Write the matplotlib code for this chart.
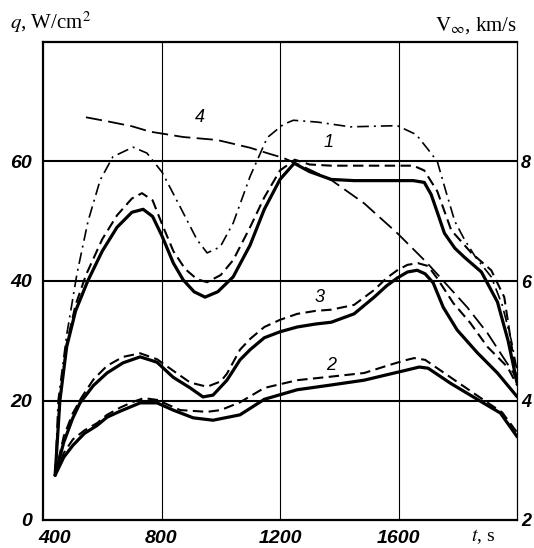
import matplotlib
matplotlib.use("Agg")
import matplotlib.pyplot as plt
import matplotlib.transforms as mtransforms

plt.rcParams['mathtext.fontset'] = 'stix'
plt.rcParams['lines.solid_joinstyle'] = 'round'
plt.rcParams['lines.dash_joinstyle'] = 'round'

# время, с
t_1s = [441, 457, 480, 510, 551, 600, 650, 700, 738, 770, 802, 840, 873, 910, 947, 990, 1042, 1099,
        1147, 1200, 1248, 1300, 1373, 1450, 1550, 1650, 1687, 1710, 1731, 1755, 1790, 1822, 1880,
        1934, 1970, 2000]
q_1s = [7.5, 20, 29, 35, 40, 45, 49, 51.5, 52, 50.8, 47.5, 43, 40.2, 38.2, 37.3, 38.2, 40.7, 46,
        52, 57, 59.7, 58.3, 57, 56.8, 56.8, 56.8, 56.5, 54.5, 51.5, 48, 45.5, 44, 41.5,
        36.5, 30, 23]

t_1d = [441, 457, 480, 510, 545, 600, 650, 700, 734, 770, 802, 840, 880, 920, 954, 1000, 1042,
        1099, 1147, 1200, 1250, 1300, 1373, 1450, 1550, 1650, 1687, 1731, 1778, 1846, 1913, 1957, 2001]
q_1d = [7.5, 20, 29.5, 36, 41, 47, 51, 53.8, 54.7, 53.5, 49.5, 45, 42, 40.3, 39.8, 41, 43.5,
        49, 54, 58.5, 60.3, 59.5, 59.3, 59.3, 59.3, 59.3, 58.5, 55, 48.5, 44.7, 41.8, 37.3, 22.8]

t_1dd = [441, 451, 480, 515, 552, 593, 636, 704, 751, 802, 863, 920, 954, 998, 1042, 1099, 1157,
         1211, 1245, 1326, 1437, 1596, 1660, 1700, 1731, 1760, 1790, 1822, 1860, 1913, 1950, 1981, 2001]
q_1dd = [7.5, 20, 31, 41.3, 50, 56.9, 60.8, 62.4, 61.4, 58.2, 52.4, 46.9, 44.7, 45.7, 49.7, 57.5, 64,
         66.2, 66.9, 66.6, 65.8, 66, 64.5, 62, 60, 55, 50, 47, 44, 40.7, 36, 30, 24.8]

t_3s = [441, 470, 500, 525, 570, 616, 670, 728, 785, 839, 897, 940, 974, 1021, 1065, 1099, 1147,
        1200, 1258, 1320, 1373, 1450, 1518, 1560, 1596, 1630, 1663, 1690, 1717, 1751, 1798, 1866,
        1934, 2001]
q_3s = [7.5, 13, 17, 19.6, 22.5, 24.6, 26.3, 27.3, 26.4, 23.9, 22.1, 20.6, 20.9, 23.4, 26.8, 28.5,
        30.5, 31.5, 32.3, 32.8, 33.1, 34.5, 37.3, 39.2, 40.5, 41.5, 41.8, 41.2, 39.7, 35.6, 31.8, 28,
        24.6, 20.6]

t_3d = [441, 470, 500, 530, 570, 616, 670, 728, 785, 839, 897, 954, 1000, 1021, 1065, 1099, 1147,
        1200, 1258, 1320, 1373, 1450, 1518, 1560, 1596, 1630, 1665, 1700, 1730, 1785, 1842, 1900,
        1968, 2001]
q_3d = [7.5, 14, 17.8, 20.5, 23.5, 25.8, 27.3, 27.9, 26.9, 25, 23, 22.3, 23.2, 24.5, 28.5, 30.3,
        32.3, 33.5, 34.5, 35, 35.2, 36, 38.5, 40.5, 41.8, 42.7, 43, 42.5, 40.5, 36.3, 33, 29,
        25.6, 22.5]

t_2s = [441, 470, 501, 540, 582, 616, 660, 694, 728, 785, 839, 907, 974, 1065, 1147, 1258, 1373,
        1484, 1560, 1620, 1670, 1700, 1775, 1886, 1944, 2001]
q_2s = [7.5, 10.5, 12.5, 14.5, 15.8, 17.2, 18.2, 18.9, 19.6, 19.6, 18.4, 17.1, 16.7, 17.6, 20.2,
        21.8, 22.6, 23.4, 24.3, 25, 25.6, 25.4, 22.9, 19.6, 17.9, 13.9]

t_2d = [441, 470, 501, 540, 582, 616, 660, 700, 740, 785, 863, 954, 1000, 1065, 1147, 1258, 1373,
        1484, 1560, 1620, 1653, 1690, 1775, 1887, 1950, 2001]
q_2d = [7.5, 11.2, 13.5, 15, 16.2, 17.6, 18.8, 19.7, 20.4, 20.1, 18.4, 18.1, 18.4, 19.7, 22.1,
        23.4, 24, 24.6, 25.8, 26.7, 27.1, 26.8, 23.9, 20.1, 18, 14.6]

# скорость V, км/с (кривая 4)
t_4 = [545, 620, 700, 761, 873, 988, 1099, 1157, 1211, 1268, 1373, 1484, 1596, 1697, 1832, 1900,
       1988, 2001]
v_4 = [8.74, 8.67, 8.59, 8.5, 8.41, 8.36, 8.23, 8.14, 8.06, 7.94, 7.69, 7.3, 6.8, 6.3, 5.56, 5.13,
       4.46, 4.29]

x_ticks = [400, 800, 1200, 1600]
q_ticks = [0, 20, 40, 60]
v_ticks = [2, 4, 6, 8]

tick_font = dict(family='Liberation Sans', style='italic', weight='bold', size=14)

fig = plt.figure(figsize=(5.34, 5.48), dpi=100)
ax = fig.add_axes([43 / 534, 1 - 520 / 548, 474 / 534, 478 / 548])
ax2 = ax.twinx()

solid = dict(color='black', lw=2.3, solid_capstyle='round')
dashed = dict(color='black', lw=1.5, ls=(0, (5, 2.6)))
dashdot = dict(color='black', lw=1.2, ls=(0, (7, 3, 1.2, 3)))

ax.plot(t_1s, q_1s, **solid)
ax.plot(t_1d, q_1d, **dashed)
ax.plot(t_1dd, q_1dd, **dashdot)
ax.plot(t_3s, q_3s, **solid)
ax.plot(t_3d, q_3d, **dashed)
ax.plot(t_2s, q_2s, **solid)
ax.plot(t_2d, q_2d, **dashed)
ax2.plot(t_4, v_4, color='black', lw=1.3, ls=(0, (9, 3.5)))

ax.set_xlim(400, 2000)
ax.set_ylim(0, 80)
ax2.set_ylim(2, 10)

ax.set_xticks(x_ticks)
ax.set_yticks(q_ticks)
ax2.set_yticks(v_ticks)
ax.set_xticklabels([str(v) for v in x_ticks], fontdict=tick_font)
ax.set_yticklabels([str(v) for v in q_ticks], fontdict=tick_font)
ax2.set_yticklabels([str(v) for v in v_ticks], fontdict=dict(tick_font, size=13))
ax.tick_params(axis='both', length=0)
ax.tick_params(axis='x', pad=7)
ax.tick_params(axis='y', pad=8)
ax2.tick_params(axis='y', length=0, pad=3)

# сдвиг подписи "400" вправо, как в оригинале
lab0 = ax.get_xticklabels()[0]
lab0.set_transform(lab0.get_transform() + mtransforms.ScaledTranslation(12 / 100, 0, fig.dpi_scale_trans))

# сетка
for y in [20, 40, 60]:
    ax.axhline(y, color='black', lw=1.5, zorder=0)
for x in [800, 1200, 1600]:
    ax.axvline(x, color='black', lw=0.8, zorder=0)

for s in ['left', 'bottom', 'top']:
    ax.spines[s].set_linewidth(1.6)
ax.spines['right'].set_linewidth(0.9)
for s in ax2.spines.values():
    s.set_visible(False)

# номера кривых
lab_font = dict(family='Liberation Sans', style='italic', size=13)
ax.text(930, 67.3, '4', ha='center', va='center', **lab_font)
ax.text(1363, 63.2, '1', ha='center', va='center', **lab_font)
ax.text(1332, 37.3, '3', ha='center', va='center', **lab_font)
ax.text(1373, 25.8, '2', ha='center', va='center', **lab_font)

# подписи осей
fig.text(10 / 534, 1 - 22 / 548, r'$q$, W/cm$^2$', fontsize=15, family='Liberation Serif',
         ha='left', va='center')
fig.text(517 / 534, 1 - 26 / 548, r'$\mathrm{V}_{\infty}$, km/s', fontsize=15, family='Liberation Serif',
         ha='right', va='center')
fig.text(483 / 534, 1 - 537 / 548, r'$t$, s', fontsize=14, family='Liberation Serif',
         ha='center', va='center')

fig.savefig('out.png', dpi=100)
